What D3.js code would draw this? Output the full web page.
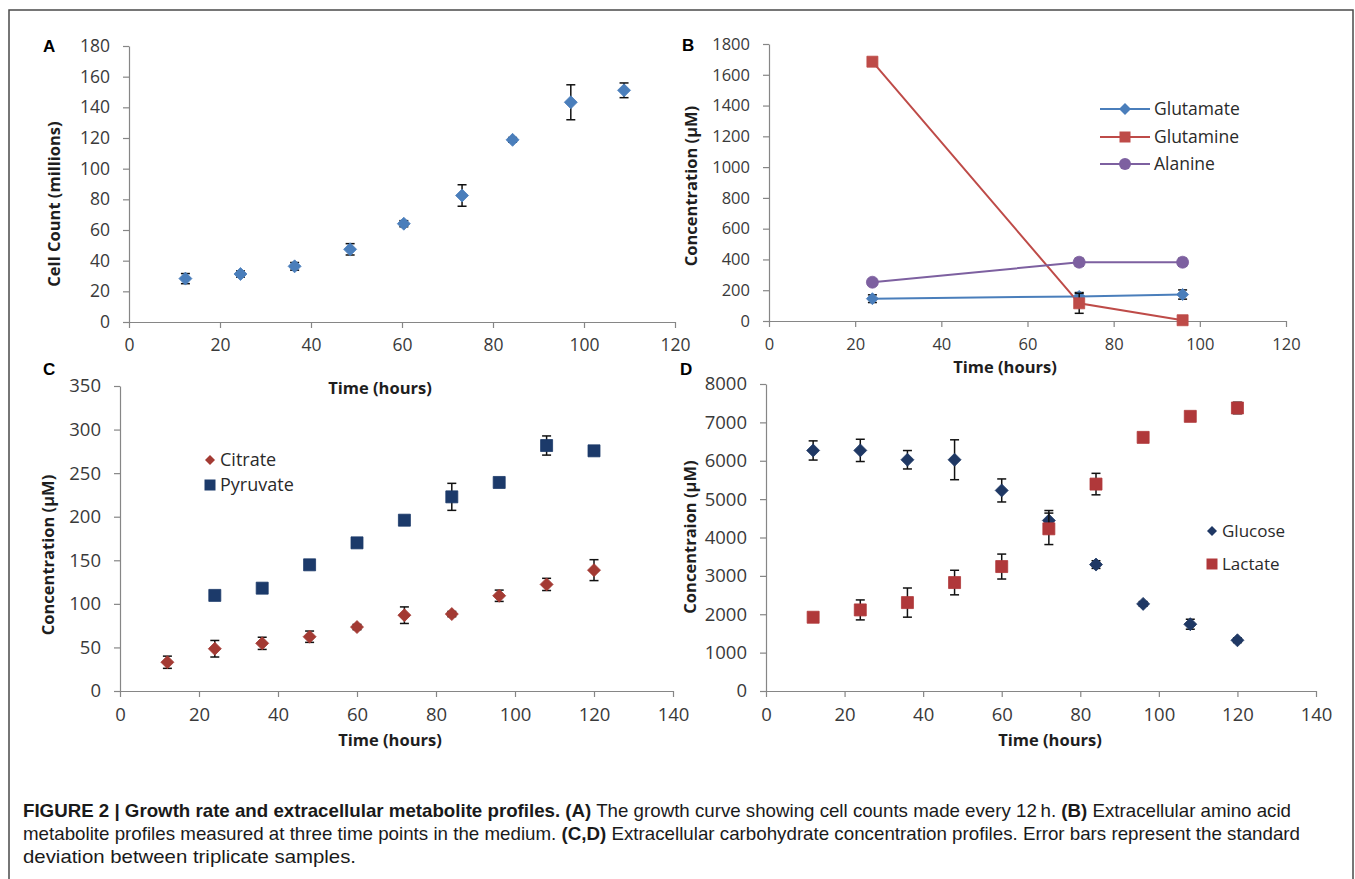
<!DOCTYPE html>
<html><head><meta charset="utf-8">
<script src="https://cdn.jsdelivr.net/npm/d3@7"></script>
<style>
html,body{margin:0;padding:0;background:#fff;}
svg{display:block;}
</style>
</head><body>
<svg id="fig" width="1355" height="879"></svg>
<script>
// ---------- DATA ----------
// Panel A
const timeA = [12.4, 24.5, 36.4, 48.6, 60.4, 73.2, 84.3, 97.1, 108.8];
const cellCount = [28.3, 31.3, 36.3, 47.4, 64.1, 82.5, 118.8, 143.3, 151.1];
const cellCountErr = [3.3, 2, 2.5, 3.7, 2, 7, 1.5, 11.4, 4.8];
const ticksAx = [0, 20, 40, 60, 80, 100, 120];
const ticksAy = [0, 20, 40, 60, 80, 100, 120, 140, 160, 180];

// Panel B
const timeB = [24, 72, 96];
const glutamate = [145, 160, 172];
const glutamateErr = [25, 25, 30];
const glutamine = [1685, 115, 5];
const glutamineErr = [25, 65, 10];
const alanine = [252, 382, 382];
const alanineErr = [20, 25, 25];
const seriesB = ["Glutamate", "Glutamine", "Alanine"];
const ticksBx = [0, 20, 40, 60, 80, 100, 120];
const ticksBy = [0, 200, 400, 600, 800, 1000, 1200, 1400, 1600, 1800];

// Panel C
const timeCitrate = [12, 24, 36, 48, 60, 72, 84, 96, 108, 120];
const citrate = [33, 48.5, 54.7, 62.3, 73.4, 87, 88.3, 109.3, 122.3, 138.7];
const citrateErr = [7, 9.5, 7, 6.5, 3, 9.5, 3, 6.5, 7, 12];
const timePyruvate = [24, 36, 48, 60, 72, 84, 96, 108, 120];
const pyruvate = [109.7, 118, 144.8, 170, 196, 222.8, 239.3, 281.7, 275.6];
const pyruvateErr = [3, 3, 3, 3, 3, 15.5, 3, 11, 4];
const seriesC = ["Citrate", "Pyruvate"];
const ticksCx = [0, 20, 40, 60, 80, 100, 120, 140];
const ticksCy = [0, 50, 100, 150, 200, 250, 300, 350];

// Panel D
const timeD = [12, 24, 36, 48, 60, 72, 84, 96, 108, 120];
const glucose = [6268, 6270, 6026, 6026, 5226, 4443, 3295, 2270, 1740, 1322];
const glucoseErr = [250, 290, 240, 520, 300, 260, 100, 60, 130, 60];
const lactate = [1922, 2113, 2304, 2826, 3243, 4226, 5392, 6609, 7157, 7375];
const lactateErr = [80, 260, 380, 320, 325, 410, 280, 100, 100, 150];
const seriesD = ["Glucose", "Lactate"];
const ticksDx = [0, 20, 40, 60, 80, 100, 120, 140];
const ticksDy = [0, 1000, 2000, 3000, 4000, 5000, 6000, 7000, 8000];

// ---------- DRAWING ----------
const svg = d3.select("#fig");
const AXIS_COLOR = "#868686";
const TICK_FONT = "'Open Sans', sans-serif";

svg.append("rect").attr("x", 9).attr("y", 10).attr("width", 1344).attr("height", 880)
  .attr("fill", "none").attr("stroke", "#4a4a4a").attr("stroke-width", 1.5);

function diamondPath(r) { return `M0,${-r}L${r},0L0,${r}L${-r},0Z`; }
function squarePath(r) { return `M${-r},${-r}H${r}V${r}H${-r}Z`; }
function circlePath(r) { return d3.symbol().type(d3.symbolCircle).size(Math.PI * r * r)(); }

function drawAxes(g, x, y, xt, yt, fs) {
  const ax = g.append("g").attr("transform", `translate(0,${y.range()[0]})`)
    .call(d3.axisBottom(x).tickValues(xt).tickSize(6).tickSizeOuter(0).tickPadding(11).tickFormat(d3.format("d")));
  const ay = g.append("g").attr("transform", `translate(${x.range()[0]},0)`)
    .call(d3.axisLeft(y).tickValues(yt).tickSize(6).tickSizeOuter(0).tickPadding(13).tickFormat(d3.format("d")));
  [ax, ay].forEach(a => {
    a.select(".domain").attr("stroke", AXIS_COLOR).attr("stroke-width", 1.2);
    a.selectAll(".tick line").attr("stroke", AXIS_COLOR).attr("stroke-width", 1.2);
    a.selectAll(".tick text").attr("font-family", TICK_FONT).attr("font-size", fs).attr("fill", "#3a3a3a");
  });
}

function title(g, txt, x, y, rot, fs) {
  g.append("text").attr("x", x).attr("y", y).attr("dy", "0.35em")
    .attr("text-anchor", "middle")
    .attr("transform", rot ? `rotate(-90,${x},${y})` : null)
    .attr("font-family", TICK_FONT).attr("font-weight", "bold")
    .attr("font-size", fs).attr("fill", "#1e1e1e").text(txt);
}

function panelLabel(txt, x, y) {
  svg.append("text").attr("x", x).attr("y", y)
    .attr("font-family", "'Liberation Sans', Arial, sans-serif").attr("font-weight", "bold")
    .attr("font-size", 17).attr("fill", "#000").text(txt);
}

function errorBars(g, x, y, xs, ys, es, cap) {
  xs.forEach((t, i) => {
    const cx = x(t), y1 = y(ys[i] - es[i]), y2 = y(ys[i] + es[i]);
    const eb = g.append("g").attr("stroke", "#111").attr("stroke-width", 1.5);
    eb.append("line").attr("x1", cx).attr("x2", cx).attr("y1", y1).attr("y2", y2);
    eb.append("line").attr("x1", cx - cap).attr("x2", cx + cap).attr("y1", y1).attr("y2", y1);
    eb.append("line").attr("x1", cx - cap).attr("x2", cx + cap).attr("y1", y2).attr("y2", y2);
  });
}

function markers(g, x, y, xs, ys, path, color) {
  g.selectAll(null).data(xs).enter().append("path")
    .attr("d", path)
    .attr("transform", (t, i) => `translate(${x(t)},${y(ys[i])})`)
    .attr("fill", color).attr("stroke", color).attr("stroke-width", 0.8);
}

// ---- Panel A ----
{
  const g = svg.append("g");
  const x = d3.scaleLinear().domain([0, 120]).range([129, 675]);
  const y = d3.scaleLinear().domain([0, 180]).range([322, 46]);
  drawAxes(g, x, y, ticksAx, ticksAy, 17.5);
  errorBars(g, x, y, timeA, cellCount, cellCountErr, 4.5);
  markers(g, x, y, timeA, cellCount, diamondPath(6.5), "#4a7ebb");
  title(g, "Cell Count (millions)", 54, 204, true, 16.5);
  title(g, "Time (hours)", 380, 388, false, 16.5);
  panelLabel("A", 43, 52);
}

// ---- Panel B ----
{
  const g = svg.append("g");
  const x = d3.scaleLinear().domain([0, 120]).range([769, 1286]);
  const y = d3.scaleLinear().domain([0, 1800]).range([321, 44]);
  drawAxes(g, x, y, ticksBx, ticksBy, 16.5);
  const cols = ["#4a7ebb", "#be4b48", "#7d60a0"];
  const vals = [glutamate, glutamine, alanine];
  const errs = [glutamateErr, glutamineErr, alanineErr];
  const shapes = [diamondPath(6), squarePath(5.5), circlePath(6)];
  const line = d3.line().x(d => x(d[0])).y(d => y(d[1]));
  vals.forEach((v, k) => {
    g.append("path").attr("d", line(timeB.map((t, i) => [t, v[i]])))
      .attr("fill", "none").attr("stroke", cols[k]).attr("stroke-width", 2);
  });
  vals.forEach((v, k) => {
    errorBars(g, x, y, timeB, v, errs[k], 4.5);
    markers(g, x, y, timeB, v, shapes[k], cols[k]);
  });
  const ly = [109, 137, 164];
  seriesB.forEach((s, k) => {
    const lg = g.append("g");
    lg.append("line").attr("x1", 1100).attr("x2", 1150).attr("y1", ly[k]).attr("y2", ly[k])
      .attr("stroke", cols[k]).attr("stroke-width", 2);
    lg.append("path").attr("d", shapes[k]).attr("transform", `translate(1125,${ly[k]})`)
      .attr("fill", cols[k]);
    lg.append("text").attr("x", 1154).attr("y", ly[k]).attr("dy", "0.35em")
      .attr("font-family", TICK_FONT).attr("font-size", 17.5).attr("fill", "#2a2a2a").text(s);
  });
  title(g, "Concentration (µM)", 691, 186, true, 16.5);
  title(g, "Time (hours)", 1005, 367, false, 16.5);
  panelLabel("B", 682, 51);
}

// ---- Panel C ----
{
  const g = svg.append("g");
  const x = d3.scaleLinear().domain([0, 140]).range([120, 673]);
  const y = d3.scaleLinear().domain([0, 350]).range([691, 386]);
  drawAxes(g, x, y, ticksCx, ticksCy, 18.5);
  const cCit = "#a33a33", cPyr = "#1c3a6a";
  errorBars(g, x, y, timeCitrate, citrate, citrateErr, 4.5);
  markers(g, x, y, timeCitrate, citrate, diamondPath(6.5), cCit);
  errorBars(g, x, y, timePyruvate, pyruvate, pyruvateErr, 4.5);
  markers(g, x, y, timePyruvate, pyruvate, squarePath(6), cPyr);
  const ly = [460, 485];
  const shp = [diamondPath(5), squarePath(5.5)], cc = [cCit, cPyr];
  seriesC.forEach((s, k) => {
    g.append("path").attr("d", shp[k]).attr("transform", `translate(210,${ly[k]})`).attr("fill", cc[k]);
    g.append("text").attr("x", 220).attr("y", ly[k]).attr("dy", "0.35em")
      .attr("font-family", TICK_FONT).attr("font-size", 18).attr("fill", "#2a2a2a").text(s);
  });
  title(g, "Concentration (µM)", 48, 555, true, 16.5);
  title(g, "Time (hours)", 390, 740, false, 16.5);
  panelLabel("C", 43, 375);
}

// ---- Panel D ----
{
  const g = svg.append("g");
  const x = d3.scaleLinear().domain([0, 140]).range([766, 1316]);
  const y = d3.scaleLinear().domain([0, 8000]).range([691, 384]);
  drawAxes(g, x, y, ticksDx, ticksDy, 18.5);
  const cGlu = "#1f3864", cLac = "#b0383a";
  errorBars(g, x, y, timeD, glucose, glucoseErr, 4.5);
  markers(g, x, y, timeD, glucose, diamondPath(6.5), cGlu);
  errorBars(g, x, y, timeD, lactate, lactateErr, 4.5);
  markers(g, x, y, timeD, lactate, squarePath(6), cLac);
  const ly = [531, 564];
  const shp = [diamondPath(5), squarePath(5.5)], cc = [cGlu, cLac];
  seriesD.forEach((s, k) => {
    g.append("path").attr("d", shp[k]).attr("transform", `translate(1212,${ly[k]})`).attr("fill", cc[k]);
    g.append("text").attr("x", 1222).attr("y", ly[k]).attr("dy", "0.35em")
      .attr("font-family", TICK_FONT).attr("font-size", 17).attr("fill", "#2a2a2a").text(s);
  });
  title(g, "Concentraion (µM)", 690, 537, true, 16.5);
  title(g, "Time (hours)", 1050, 740, false, 16.5);
  panelLabel("D", 680, 375);
}

// ---- Caption ----
const capLines = [
  [["FIGURE 2 | Growth rate and extracellular metabolite profiles.", true], [" ", false], ["(A)", true],
   [" The growth curve showing cell counts made every 12\u2009h. ", false], ["(B)", true], [" Extracellular amino acid", false]],
  [["metabolite profiles measured at three time points in the medium. ", false], ["(C,D)", true],
   [" Extracellular carbohydrate concentration profiles. Error bars represent the standard", false]],
  [["deviation between triplicate samples.", false]]
];
const capY = [817, 840, 863];
const capW = [1268, 1277, 333];
capLines.forEach((parts, i) => {
  const t = svg.append("text").attr("x", 23).attr("y", capY[i])
    .attr("font-family", "'Liberation Sans', Arial, sans-serif").attr("font-size", 18.5).attr("fill", "#1a1a1a")
    .attr("textLength", capW[i]).attr("lengthAdjust", "spacingAndGlyphs");
  parts.forEach(p => t.append("tspan").attr("font-weight", p[1] ? "bold" : "normal").text(p[0]));
});
</script>
</body></html>
